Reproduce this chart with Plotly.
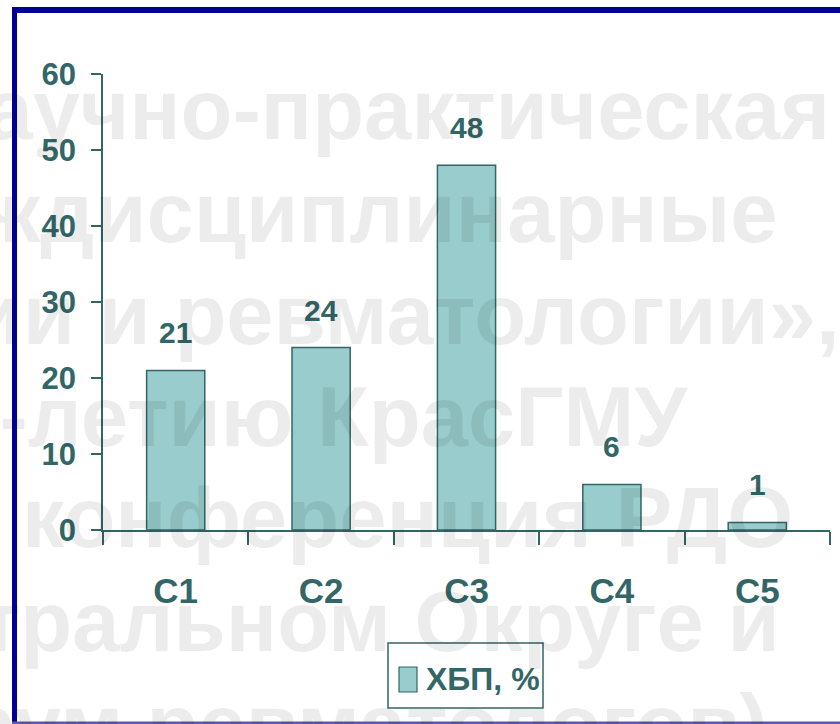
import plotly.graph_objects as go

categories = ["C1", "C2", "C3", "C4", "C5"]
values = [21, 24, 48, 6, 1]
y_ticks = [0, 10, 20, 30, 40, 50, 60]
series_name = "ХБП, %"

watermark_lines = [
    "Научно-практическая",
    "Междисциплинарные",
    "терапии и ревматологии»,",
    "80-летию КрасГМУ",
    "конференция РДО",
    "Центральном Округе и",
    "форум ревматологов)",
]
wm_x = [832, 780, 842, 690, 20, 782, 770]
wm_anchor = ["right", "right", "right", "right", "left", "right", "right"]
wm_base = [135, 238, 340, 442, 543, 647, 750]

W, H = 840, 724
L, R, T, B = 103, 830, 74, 530
def px(x):
    return (x - L) / (R - L)
def py(y):
    return (B - y) / (B - T)

TEAL = "#336666"
FILL = "#99CCCC"
FONT = "Liberation Sans, Arial, sans-serif"

fig = go.Figure()
fig.add_trace(go.Bar(
    x=categories, y=values, name=series_name, width=0.4,
    marker=dict(color=FILL, line=dict(color=TEAL, width=1.5)),
    showlegend=False,
))

annotations = []
for c, v in zip(categories, values):
    annotations.append(dict(
        x=c, y=v, xref="x", yref="y", text=str(v), showarrow=False,
        yanchor="bottom", yshift=19,
        font=dict(family=FONT, size=30, color=TEAL, weight="bold"),
    ))

WM = 85
for t, xr, an, yb in zip(watermark_lines, wm_x, wm_anchor, wm_base):
    annotations.append(dict(
        x=px(xr), y=py(yb - 0.30 * WM), xref="paper", yref="paper",
        text=t, showarrow=False, xanchor=an, yanchor="middle",
        font=dict(family=FONT, size=WM, color="rgba(0,0,0,0.075)", weight="bold"),
    ))

# legend (manual)
annotations.append(dict(
    x=px(424), y=py(679), xref="paper", yref="paper", text=series_name,
    showarrow=False, xanchor="left", yanchor="middle",
    font=dict(family=FONT, size=32, color=TEAL, weight="bold"),
))

shapes = [
    dict(type="rect", xref="paper", yref="paper", x0=px(388), x1=px(543),
         y0=py(643), y1=py(708), line=dict(color=TEAL, width=1.5),
         fillcolor="rgba(255,255,255,0)", layer="above"),
    dict(type="rect", xref="paper", yref="paper", x0=px(399), x1=px(417),
         y0=py(667), y1=py(692), line=dict(color=TEAL, width=1.2),
         fillcolor=FILL, layer="above"),
    # frame
    dict(type="rect", xref="paper", yref="paper", x0=px(12), x1=px(860),
         y0=py(13), y1=py(7), line=dict(width=0), fillcolor="#000099", layer="above"),
    dict(type="rect", xref="paper", yref="paper", x0=px(12), x1=px(17),
         y0=py(724), y1=py(7), line=dict(width=0), fillcolor="#000099", layer="above"),
    dict(type="rect", xref="paper", yref="paper", x0=px(12), x1=px(860),
         y0=py(724), y1=py(721.5), line=dict(width=0), fillcolor="#5A5AAA", layer="above"),
]

fig.update_layout(
    width=W, height=H,
    margin=dict(l=L, r=W - R, t=T, b=H - B),
    paper_bgcolor="white", plot_bgcolor="white",
    annotations=annotations, shapes=shapes,
    bargap=0.6,
)
fig.update_yaxes(
    range=[0, 60], tickvals=y_ticks, showgrid=False, zeroline=False,
    showline=True, linecolor=TEAL, linewidth=1.5,
    ticks="outside", ticklen=10, tickcolor=TEAL, tickwidth=1.5,
    ticklabelstandoff=9,
    tickfont=dict(family=FONT, size=31, color=TEAL, weight="bold"),
)
fig.update_xaxes(
    showgrid=False, showline=True, linecolor=TEAL, linewidth=1.5,
    ticks="outside", ticklen=13, tickcolor=TEAL, tickwidth=1.5,
    tickson="boundaries", ticklabelstandoff=29,
    tickfont=dict(family=FONT, size=35, color=TEAL, weight="bold"),
)

fig.write_html("out.html", config={"displayModeBar": False},
               post_script="document.body.style.margin='0px';document.body.style.padding='0px';")
